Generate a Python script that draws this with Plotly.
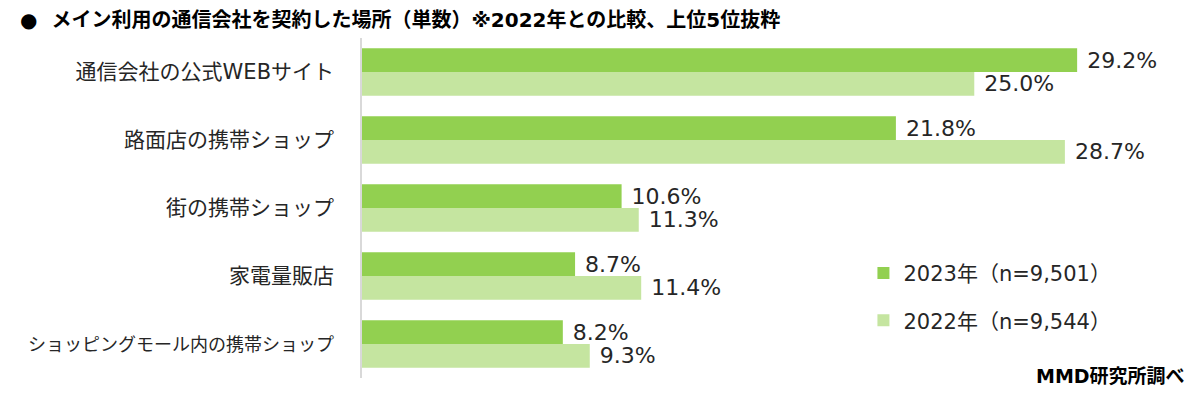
import plotly.graph_objects as go

CATEGORIAS = [
    "通信会社の公式WEBサイト",
    "路面店の携帯ショップ",
    "街の携帯ショップ",
    "家電量販店",
    "ショッピングモール内の携帯ショップ",
]
VAL_2023 = [29.2, 21.8, 10.6, 8.7, 8.2]
VAL_2022 = [25.0, 28.7, 11.3, 11.4, 9.3]
NOME_2023 = "2023年（n=9,501）"
NOME_2022 = "2022年（n=9,544）"

COR_2023 = "#92D050"
COR_2022 = "#C5E5A0"
FONTE = "DejaVu Sans, Noto Sans CJK JP"

# rotulo longo em fonte menor para caber na margem
ROTULOS = [
    c if len(c) < 15 else f"<span style='font-size:18px'>{c}</span>"
    for c in CATEGORIAS
]

fig = go.Figure()
for nome, vals, cor in [(NOME_2023, VAL_2023, COR_2023), (NOME_2022, VAL_2022, COR_2022)]:
    fig.add_trace(go.Bar(
        y=CATEGORIAS,
        x=vals,
        orientation="h",
        name=nome,
        legendgroup=nome,
        marker=dict(color=cor, line=dict(width=0)),
        text=[f" {v:.1f}%" for v in vals],
        textposition="outside",
        constraintext="none",
        textfont=dict(size=22, color="#262626", family=FONTE),
        cliponaxis=False,
    ))

# a pagina tem margem de 8px no body, por isso 1192x392
fig.update_layout(
    width=1192,
    height=392,
    margin=dict(l=354, r=20, t=30, b=22),
    plot_bgcolor="white",
    paper_bgcolor="white",
    barmode="group",
    bargap=0.3,
    bargroupgap=0,
    font=dict(family=FONTE, color="#262626"),
    xaxis=dict(range=[0, 33.4], visible=False),
    yaxis=dict(
        autorange="reversed",
        automargin=False,
        showline=True,
        linecolor="#D9D9D9",
        linewidth=1.5,
        ticks="",
        ticklabelstandoff=22,
        tickvals=CATEGORIAS,
        ticktext=ROTULOS,
        tickfont=dict(size=21, color="#262626", family=FONTE),
        showgrid=False,
    ),
    legend=dict(
        x=0.613, y=0.368, xanchor="left", yanchor="top",
        traceorder="grouped",
        tracegroupgap=17,
        font=dict(size=21, color="#262626", family=FONTE),
        itemwidth=30,
        bgcolor="rgba(0,0,0,0)",
    ),
    showlegend=True,
)

fig.add_annotation(
    text="●  メイン利用の通信会社を契約した場所（単数）※2022年との比較、上位5位抜粋",
    xref="paper", yref="paper", x=-0.4205, y=1.053, xanchor="left", yanchor="middle",
    showarrow=False,
    font=dict(size=20, color="#000000", family=FONTE, weight="bold"),
)
fig.add_annotation(
    text="MMD研究所調べ",
    xref="paper", yref="paper", x=1.0, y=-0.01, xanchor="right", yanchor="middle",
    xshift=7, yshift=5,
    showarrow=False,
    font=dict(size=19, color="#000000", family=FONTE, weight="bold"),
)

fig.write_html("out.html")
